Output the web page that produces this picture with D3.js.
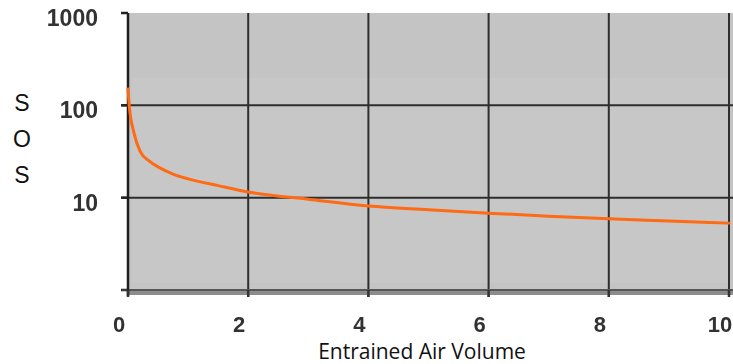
<!DOCTYPE html>
<html><head><meta charset="utf-8">
<script src="https://cdn.jsdelivr.net/npm/d3@7"></script>
<style>html,body{margin:0;padding:0;background:#fff;overflow:hidden}</style>
</head><body>
<svg id="c" width="733" height="364"></svg>
<script>
const xTicks = [0, 2, 4, 6, 8, 10];
const yTicks = [1, 10, 100, 1000];
const yTickLabels = ["", "10", "100", "1000"];
const airVolume = [0, 0.02, 0.1, 0.2, 0.35, 0.53, 0.75, 1, 1.5, 2, 3, 4, 5, 6, 7, 8, 9, 10];
const sosValues = [150, 100, 50, 32, 25, 21, 18, 16, 13.5, 11.5, 9.6, 8.1, 7.4, 6.8, 6.3, 5.9, 5.6, 5.3];
const yTitle = ["S", "O", "S"];
const xTitle = "Entrained Air Volume";

const svg = d3.select("#c");
const L = 128, R = 729, T = 13, B = 290;
const x = d3.scaleLinear().domain([0, 10]).range([L, R]);
const y = d3.scaleLog().domain([1, 1000]).range([B, T]);

const defs = svg.append("defs");
defs.append("filter").attr("id", "bl").append("feGaussianBlur").attr("stdDeviation", 0.6);

svg.append("rect").attr("x", L).attr("y", T).attr("width", 733 - L).attr("height", B - T).attr("fill", "#c4c4c4");
svg.append("rect").attr("x", L + 4).attr("y", 78).attr("width", 733 - L - 8).attr("height", 205).attr("fill", "#c9c9c9").attr("opacity", 0.6);

const g = svg.append("g");
g.selectAll(".hg").data(yTicks.filter(v => v > 1 && v < 1000)).enter().append("line")
  .attr("x1", L - 6).attr("x2", 733).attr("y1", d => y(d)).attr("y2", d => y(d))
  .attr("stroke", "#2e2e2e").attr("stroke-width", 2);
g.selectAll(".vg").data(xTicks.filter(v => v > 0)).enter().append("line")
  .attr("x1", d => x(d)).attr("x2", d => x(d)).attr("y1", T).attr("y2", B + 7)
  .attr("stroke", "#2e2e2e").attr("stroke-width", 2);
g.selectAll(".lt").data(yTicks).enter().append("line")
  .attr("x1", L - 7).attr("x2", L).attr("y1", d => y(d)).attr("y2", d => y(d))
  .attr("stroke", "#222").attr("stroke-width", 2.5);
svg.append("rect").attr("x", L).attr("y", B - 1).attr("width", 733 - L).attr("height", 6).attr("fill", "#8c8c8c");
svg.append("line").attr("x1", L - 6).attr("x2", 733).attr("y1", B).attr("y2", B).attr("stroke", "#444").attr("stroke-width", 1.5);
svg.append("line").attr("x1", L).attr("x2", L).attr("y1", T).attr("y2", B + 6).attr("stroke", "#1e1e1e").attr("stroke-width", 2.5);
svg.selectAll(".bt").data(xTicks).enter().append("line")
  .attr("x1", d => x(d)).attr("x2", d => x(d)).attr("y1", B).attr("y2", B + 7)
  .attr("stroke", "#333").attr("stroke-width", 2.5);

const pts = airVolume.map((v, i) => [v, sosValues[i]]);
svg.append("path").datum(pts)
  .attr("d", d3.line().x(d => x(d[0])).y(d => y(d[1])).curve(d3.curveMonotoneX))
  .attr("fill", "none").attr("stroke", "#ff6a14").attr("stroke-width", 3).attr("stroke-linecap", "round");

const tl = svg.append("g").attr("filter", "url(#bl)")
  .attr("font-family", "Liberation Sans, Arial, sans-serif").attr("font-weight", "bold")
  .attr("fill", "#333");
tl.selectAll(".xl").data(xTicks).enter().append("text")
  .attr("font-size", 22)
  .attr("x", d => x(d) - 9).attr("y", 332).attr("text-anchor", "middle").text(d => d);
tl.selectAll(".yl").data(yTicks).enter().append("text")
  .attr("font-size", 23)
  .attr("x", 98).attr("y", d => y(d) + 13).attr("text-anchor", "end")
  .text((d, i) => yTickLabels[i]);

svg.selectAll(".yt").data(yTitle).enter().append("text")
  .attr("x", 22).attr("y", (d, i) => 111 + i * 36).attr("text-anchor", "middle")
  .attr("font-family", "Liberation Sans, Arial, sans-serif").attr("font-size", 23).attr("fill", "#111")
  .text(d => d);
svg.append("text").attr("x", 422).attr("y", 359).attr("text-anchor", "middle")
  .attr("font-family", "Open Sans, sans-serif").attr("font-size", 21).attr("fill", "#111")
  .text(xTitle);
</script>
</body></html>
